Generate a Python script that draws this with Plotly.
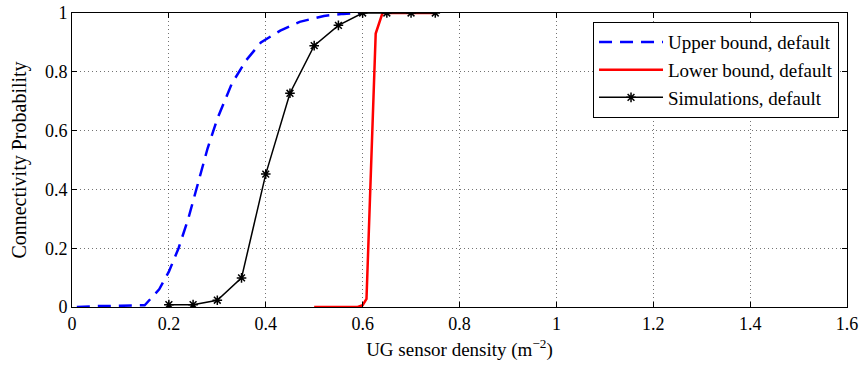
import plotly.graph_objects as go

# Upper bound (blue dashed)
upper_x = [0.01, 0.05, 0.10, 0.15, 0.18, 0.20, 0.22, 0.24, 0.26, 0.28, 0.30, 0.33, 0.36, 0.39, 0.43, 0.47, 0.52, 0.56, 0.60]
upper_y = [0.0, 0.003, 0.004, 0.006, 0.06, 0.12, 0.2, 0.3, 0.42, 0.54, 0.64, 0.76, 0.84, 0.9, 0.94, 0.97, 0.99, 0.997, 1.0]

# Lower bound (red solid)
lower_x = [0.50, 0.55, 0.59, 0.60, 0.608, 0.627, 0.641, 0.70, 0.75]
lower_y = [0.0, 0.0, 0.0, 0.006, 0.028, 0.93, 1.0, 1.0, 1.0]

# Simulations (black with stars)
sim_x = [0.20, 0.25, 0.30, 0.35, 0.40, 0.45, 0.50, 0.55, 0.60, 0.65, 0.70, 0.75]
sim_y = [0.008, 0.008, 0.023, 0.099, 0.452, 0.727, 0.889, 0.958, 1.0, 1.0, 1.0, 1.0]

x_ticks = [0, 0.2, 0.4, 0.6, 0.8, 1.0, 1.2, 1.4, 1.6]
x_tick_labels = ["0", "0.2", "0.4", "0.6", "0.8", "1", "1.2", "1.4", "1.6"]
y_ticks = [0, 0.2, 0.4, 0.6, 0.8, 1.0]
y_tick_labels = ["0", "0.2", "0.4", "0.6", "0.8", "1"]

fig = go.Figure()
fig.add_trace(go.Scatter(x=upper_x, y=upper_y, mode="lines", name="Upper bound, default",
                         line=dict(color="#0000ff", width=2.5, dash="13px,8px")))
fig.add_trace(go.Scatter(x=lower_x, y=lower_y, mode="lines", name="Lower bound, default",
                         line=dict(color="#ff0000", width=2.5)))
fig.add_trace(go.Scatter(x=sim_x, y=sim_y, mode="lines+markers", name="Simulations, default",
                         line=dict(color="#000000", width=1.5),
                         marker=dict(symbol="asterisk-open", size=8, color="#000000",
                                     line=dict(color="#000000", width=1.5))))

font_family = "Liberation Serif, Times New Roman, serif"
axis_common = dict(showline=True, linecolor="black", linewidth=1, mirror="allticks",
                   ticks="inside", ticklen=5, tickcolor="black", automargin=False,
                   showgrid=True, gridcolor="rgba(0,0,0,0.55)", griddash="1px,3px", gridwidth=1,
                   zeroline=False, tickfont=dict(family=font_family, size=18, color="black"))

fig.update_layout(
    width=866, height=371,
    margin=dict(l=72, r=19, t=13, b=64),
    paper_bgcolor="white", plot_bgcolor="white",
    font=dict(family=font_family, size=18, color="black"),
    xaxis=dict(range=[0, 1.6], tickvals=x_ticks, ticktext=x_tick_labels,
               title=dict(text="UG sensor density (m<sup>−2</sup>)", standoff=10,
                          font=dict(family=font_family, size=19)),
               **axis_common),
    yaxis=dict(range=[0, 1], tickvals=y_ticks, ticktext=y_tick_labels,
               title=dict(text="Connectivity Probability", standoff=12,
                          font=dict(family=font_family, size=20)),
               **axis_common),
    legend=dict(x=0.9897, y=0.969, xanchor="right", yanchor="top",
                bgcolor="white", bordercolor="black", borderwidth=1,
                font=dict(family=font_family, size=19), itemwidth=64,
                tracegroupgap=0),
    showlegend=True,
)

# remove the default page margin so the figure fills the window exactly
fig.write_html("out.html",
               config={"displayModeBar": False},
               post_script="document.body.style.margin='0';document.body.style.overflow='hidden';")
